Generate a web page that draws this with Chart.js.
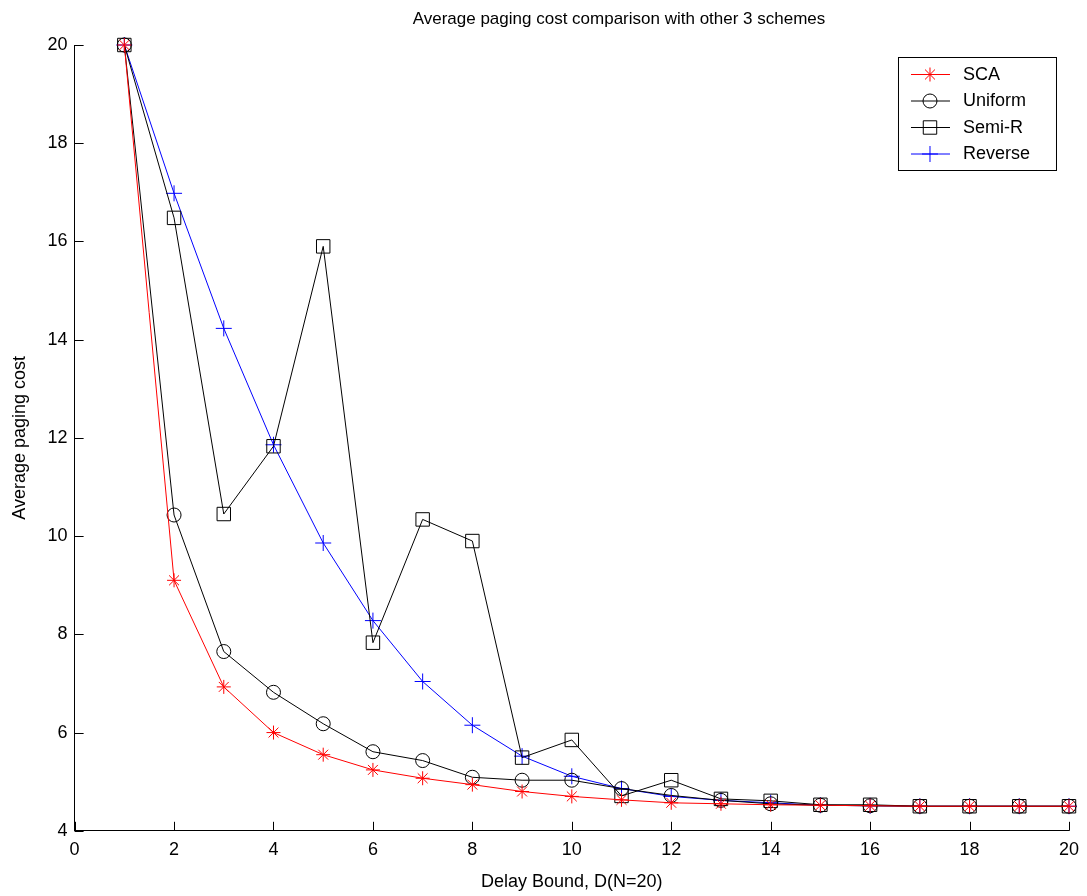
<!DOCTYPE html>
<html>
<head>
<meta charset="utf-8">
<script src="https://cdn.jsdelivr.net/npm/chart.js@4/dist/chart.umd.min.js"></script>
<style>
  html, body { margin: 0; padding: 0; background: #fff; }
  #wrap { width: 1087px; height: 896px; }
</style>
</head>
<body>
<div id="wrap"><canvas id="chart" width="1087" height="896"></canvas></div>
<script>
// Dados
const delayBound = [1, 2, 3, 4, 5, 6, 7, 8, 9, 10, 11, 12, 13, 14, 15, 16, 17, 18, 19, 20];
const scaCost     = [20, 9.1, 6.93, 6.0, 5.55, 5.24, 5.07, 4.94, 4.80, 4.70, 4.63, 4.57, 4.55, 4.53, 4.52, 4.51, 4.5, 4.5, 4.5, 4.5];
const uniformCost = [20, 10.43, 7.65, 6.82, 6.18, 5.61, 5.43, 5.09, 5.03, 5.03, 4.86, 4.72, 4.62, 4.55, 4.52, 4.51, 4.5, 4.5, 4.5, 4.5];
const semiRCost   = [20, 16.48, 10.45, 11.83, 15.9, 7.83, 10.34, 9.9, 5.49, 5.85, 4.71, 5.03, 4.65, 4.61, 4.53, 4.53, 4.5, 4.5, 4.5, 4.5];
const reverseCost = [20, 16.98, 14.23, 11.86, 9.86, 8.28, 7.04, 6.15, 5.52, 5.11, 4.86, 4.70, 4.62, 4.57, 4.52, 4.51, 4.5, 4.5, 4.5, 4.5];
const xTicks = [0, 2, 4, 6, 8, 10, 12, 14, 16, 18, 20];
const yTicks = [4, 6, 8, 10, 12, 14, 16, 18, 20];
const chartTitle = 'Average paging cost comparison with other 3 schemes';

const FONT = 'Liberation Sans, Arial, sans-serif';

function toPoints(values) {
    return values.map((v, i) => ({ x: delayBound[i], y: v }));
}

function makeDataset(label, values, color, style, radius) {
    return {
        label: label,
        data: toPoints(values),
        borderColor: color,
        backgroundColor: 'rgba(0,0,0,0)',
        borderWidth: 1,
        pointStyle: style,
        pointRadius: radius,
        pointBorderColor: color,
        pointBackgroundColor: 'rgba(0,0,0,0)',
        pointBorderWidth: 1,
        tension: 0,
        clip: false
    };
}

// Marcas de escala para dentro (estilo MATLAB)
const inwardTicks = {
    id: 'inwardTicks',
    afterDraw(chart) {
        const ctx = chart.ctx;
        const xs = chart.scales.x, ys = chart.scales.y;
        const area = chart.chartArea;
        ctx.save();
        ctx.strokeStyle = '#000';
        ctx.lineWidth = 1;
        ctx.beginPath();
        xTicks.forEach(t => {
            const px = Math.round(xs.getPixelForValue(t)) + 0.5;
            ctx.moveTo(px, area.bottom);
            ctx.lineTo(px, area.bottom - 9);
        });
        yTicks.forEach(t => {
            const py = Math.round(ys.getPixelForValue(t)) + 0.5;
            ctx.moveTo(area.left, py);
            ctx.lineTo(area.left + 9, py);
        });
        ctx.stroke();
        ctx.restore();
    }
};

// Título um pouco deslocado à direita, como no original
const topTitle = {
    id: 'topTitle',
    afterDraw(chart) {
        const ctx = chart.ctx;
        ctx.save();
        ctx.fillStyle = '#000';
        ctx.font = '17px ' + FONT;
        ctx.textAlign = 'center';
        ctx.textBaseline = 'middle';
        ctx.fillText(chartTitle, 619, 19);
        ctx.restore();
    }
};

// Legenda com linha e marcador
const boxLegend = {
    id: 'boxLegend',
    afterDraw(chart) {
        const ctx = chart.ctx;
        const area = chart.chartArea;
        const w = 158, h = 113;
        const x0 = area.right - 13 - w, y0 = area.top + 12;
        ctx.save();
        ctx.fillStyle = '#fff';
        ctx.fillRect(x0, y0, w, h);
        ctx.strokeStyle = '#000';
        ctx.lineWidth = 1;
        ctx.strokeRect(x0 + 0.5, y0 + 0.5, w, h);
        ctx.font = '18px ' + FONT;
        ctx.textBaseline = 'middle';
        chart.data.datasets.forEach((ds, i) => {
            const cy = y0 + 17 + i * 26.5;
            ctx.strokeStyle = ds.borderColor;
            ctx.beginPath();
            ctx.moveTo(x0 + 13, cy + 0.5);
            ctx.lineTo(x0 + 52, cy + 0.5);
            ctx.stroke();
            ctx.fillStyle = 'rgba(0,0,0,0)';
            Chart.helpers.drawPoint(ctx, {
                pointStyle: ds.pointStyle,
                radius: ds.pointRadius,
                borderWidth: 1,
                rotation: 0
            }, x0 + 32, cy + 0.5);
            ctx.fillStyle = '#000';
            ctx.fillText(ds.label, x0 + 65, cy + 1);
        });
        ctx.restore();
    }
};

const ctx = document.getElementById('chart').getContext('2d');
const chart = new Chart(ctx, {
    type: 'line',
    data: {
        datasets: [
            makeDataset('SCA', scaCost, '#ff0000', 'star', 7),
            makeDataset('Uniform', uniformCost, '#000000', 'circle', 7),
            makeDataset('Semi-R', semiRCost, '#000000', 'rect', 9.5),
            makeDataset('Reverse', reverseCost, '#0000ff', 'cross', 8)
        ]
    },
    options: {
        responsive: false,
        animation: false,
        layout: { padding: { left: 6, right: 18, top: 45, bottom: 3 } },
        plugins: {
            legend: { display: false },
            tooltip: { enabled: false },
            title: { display: false }
        },
        scales: {
            x: {
                type: 'linear',
                min: 0,
                max: 20,
                afterBuildTicks: s => { s.ticks = xTicks.map(v => ({ value: v })); },
                ticks: { color: '#000', font: { family: FONT, size: 18 }, padding: 8, maxRotation: 0 },
                grid: { display: false, drawTicks: false },
                border: { display: true, color: '#000', width: 1 },
                title: {
                    display: true,
                    text: 'Delay Bound, D(N=20)',
                    color: '#000',
                    font: { family: FONT, size: 18 },
                    padding: { top: 3, bottom: 0 }
                }
            },
            y: {
                type: 'linear',
                min: 4,
                max: 20,
                afterBuildTicks: s => { s.ticks = yTicks.map(v => ({ value: v })); },
                ticks: { color: '#000', font: { family: FONT, size: 18 }, padding: 7 },
                grid: { display: false, drawTicks: false },
                border: { display: true, color: '#000', width: 1 },
                title: {
                    display: true,
                    text: 'Average paging cost',
                    color: '#000',
                    font: { family: FONT, size: 18 },
                    padding: { top: 3, bottom: 10 }
                }
            }
        }
    },
    plugins: [inwardTicks, boxLegend, topTitle]
});
</script>
</body>
</html>
